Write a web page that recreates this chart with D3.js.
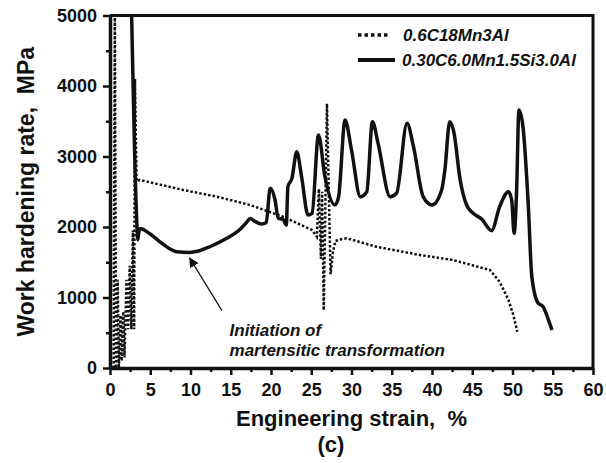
<!DOCTYPE html>
<html>
<head>
<meta charset="utf-8">
<script src="https://cdn.jsdelivr.net/npm/d3@7"></script>
<style>
    body { margin: 0; background: white; font-family: "Liberation Sans", Arial, Helvetica, sans-serif; }
    svg { display: block; }
</style>
</head>
<body>
<svg id="chart"></svg>
<script>
    // strain (%) and work hardening rate (MPa)
    let seriesNames = ["0.6C18Mn3Al", "0.30C6.0Mn1.5Si3.0Al"];

    let dottedStrain = [0.45, 0.6, 0.75, 0.95, 1.1, 1.3, 1.45, 1.65, 1.8, 2.05, 2.25, 2.45, 2.65, 2.85, 3.0, 3.1, 3.3, 3.7,
        9.1, 13.3, 17.4, 21.5, 25.1, 25.7, 25.95, 26.2, 26.35, 26.55, 26.95, 27.4, 27.7, 28.0, 28.4, 29.4,
        33.1, 38.5, 42.6, 47.2, 48.4, 49.5, 50.1, 50.6];
    let dottedRate = [0, 5100, 0, 1250, 0, 750, 100, 800, 150, 1250, 550, 1450, 550, 1950, 550, 4100, 2650, 2667,
        2525, 2430, 2312, 2146, 1957, 1862, 2540, 1550, 2500, 820, 3750, 1330, 1650, 1800, 1820, 1840,
        1720, 1603, 1532, 1390, 1224, 965, 752, 515];

    let solidStrain = [2.68, 3.3, 3.45, 3.55, 3.75, 5.0, 6.2, 7.3, 8.3, 9.9, 11.0, 12.4, 14.5, 16.1, 17.0, 17.4,
        18.0, 18.8, 19.4, 19.9, 20.5, 20.9, 21.5, 21.9, 22.1, 22.6, 23.2, 23.8, 24.6, 25.1, 25.9, 26.7,
        27.95, 28.4, 29.2, 30.0, 31.1, 31.9, 32.6, 33.3, 34.8, 35.6, 36.9, 37.7, 38.9, 40.0, 41.2, 41.6,
        42.2, 42.7, 43.5, 44.3, 44.9, 46.2, 47.4, 48.4, 49.5, 49.9, 50.2, 50.5, 50.8, 51.3, 51.95, 52.4,
        53.2, 53.8, 54.4, 54.9];
    let solidRate = [5050, 2150, 1820, 1900, 1980, 1900, 1790, 1700, 1650, 1640, 1660, 1720, 1840, 1960, 2070, 2120,
        2080, 2043, 2060, 2549, 2383, 2123, 2109, 2028, 2572, 2690, 3068, 2713, 2170, 2194, 3305, 2713,
        2312, 2430, 3518, 3092, 2430, 2501, 3494, 3187, 2430, 2478, 3471, 3139, 2430, 2312, 2525, 2808,
        3494, 3352, 2667, 2312, 2217, 2109, 1948, 2288, 2501, 2383, 1910, 2478, 3660, 3423, 2336, 1295,
        918, 870, 705, 539];

    let xTicks = [0, 5, 10, 15, 20, 25, 30, 35, 40, 45, 50, 55, 60];
    let yTicks = [0, 1000, 2000, 3000, 4000, 5000];

    function drawChart() {
        let width = 606, height = 463;
        let svg = d3.select("#chart").attr("width", width).attr("height", height);

        let x = d3.scaleLinear().domain([0, 60]).range([110, 593]);
        let y = d3.scaleLinear().domain([0, 5000]).range([368, 15.5]);

        svg.append("clipPath").attr("id", "plot")
            .append("rect")
            .attr("x", x(0)).attr("y", y(5000))
            .attr("width", x(60) - x(0)).attr("height", y(0) - y(5000));

        // frame (top and right)
        svg.append("path")
            .attr("d", "M" + x(0) + "," + y(5000) + "H" + x(60) + "V" + y(0))
            .attr("fill", "none").attr("stroke", "#111").attr("stroke-width", 3);

        // minor ticks
        let xMinor = d3.axisBottom(x).tickValues(d3.range(2.5, 60, 5)).tickSize(4).tickFormat("");
        svg.append("g").attr("transform", "translate(0," + y(0) + ")").call(xMinor)
            .call(g => g.select(".domain").remove())
            .selectAll("line").attr("stroke", "#111").attr("stroke-width", 2.5);
        let yMinor = d3.axisLeft(y).tickValues(d3.range(500, 5000, 1000)).tickSize(4).tickFormat("");
        svg.append("g").attr("transform", "translate(" + x(0) + ",0)").call(yMinor)
            .call(g => g.select(".domain").remove())
            .selectAll("line").attr("stroke", "#111").attr("stroke-width", 2.5);

        // series
        let plot = svg.append("g").attr("clip-path", "url(#plot)");
        let dotted = dottedStrain.map((s, i) => [s, dottedRate[i]]);
        let solid = solidStrain.map((s, i) => [s, solidRate[i]]);

        plot.append("path")
            .datum(dotted)
            .attr("d", d3.line().x(d => x(d[0])).y(d => y(d[1])))
            .attr("fill", "none").attr("stroke", "#111")
            .attr("stroke-width", 2.5).attr("stroke-dasharray", "2.5,2");

        plot.append("path")
            .datum(solid)
            .attr("d", d3.line().curve(d3.curveMonotoneX).x(d => x(d[0])).y(d => y(d[1])))
            .attr("fill", "none").attr("stroke", "#111")
            .attr("stroke-width", 3.5).attr("stroke-linejoin", "round");

        // major axes
        let xAxis = d3.axisBottom(x).tickValues(xTicks).tickSize(7).tickPadding(8).tickSizeOuter(0);
        let gx = svg.append("g").attr("transform", "translate(0," + y(0) + ")").call(xAxis);
        let yAxis = d3.axisLeft(y).tickValues(yTicks).tickFormat(d3.format("d"))
            .tickSize(7).tickPadding(6).tickSizeOuter(0);
        let gy = svg.append("g").attr("transform", "translate(" + x(0) + ",0)").call(yAxis);
        [gx, gy].forEach(g => {
            g.select(".domain").attr("stroke", "#111").attr("stroke-width", 3.5);
            g.selectAll(".tick line").attr("stroke", "#111").attr("stroke-width", 2.5);
            g.selectAll(".tick text")
                .attr("fill", "#111")
                .style("font-family", "'Liberation Sans', Arial, sans-serif")
                .style("font-size", "18px").style("font-weight", "bold");
        });

        // axis titles
        svg.append("text")
            .attr("x", (x(0) + x(60)) / 2).attr("y", 426)
            .attr("text-anchor", "middle")
            .style("font-size", "22px").style("font-weight", "bold").attr("fill", "#111")
            .attr("xml:space", "preserve")
            .text("Engineering strain,  %");
        svg.append("text")
            .attr("x", 331).attr("y", 452)
            .attr("text-anchor", "middle")
            .style("font-size", "22px").style("font-weight", "bold").attr("fill", "#111")
            .text("(c)");
        svg.append("text")
            .attr("transform", "translate(34," + (y(0) + y(5000)) / 2 + ") rotate(-90)")
            .attr("text-anchor", "middle")
            .style("font-size", "23px").style("font-weight", "bold").attr("fill", "#111")
            .attr("xml:space", "preserve")
            .text("Work hardening rate,  MPa");

        // legend
        let legend = svg.append("g").attr("transform", "translate(358,35)");
        legend.append("line").attr("x1", 0).attr("x2", 31).attr("y1", 0).attr("y2", 0)
            .attr("stroke", "#111").attr("stroke-width", 3.5).attr("stroke-dasharray", "3.5,3");
        legend.append("line").attr("x1", 0).attr("x2", 37).attr("y1", 25).attr("y2", 25)
            .attr("stroke", "#111").attr("stroke-width", 4);
        legend.selectAll("text").data(seriesNames).enter().append("text")
            .attr("x", (d, i) => i == 0 ? 45 : 44)
            .attr("y", (d, i) => i * 25 + 6)
            .style("font-size", "17px").style("font-weight", "bold").style("font-style", "italic")
            .attr("fill", "#111")
            .text(d => d);

        // annotation
        let defs = svg.append("defs");
        defs.append("marker").attr("id", "head")
            .attr("viewBox", "0 0 10 10").attr("refX", 9).attr("refY", 5)
            .attr("markerWidth", 10).attr("markerHeight", 10)
            .attr("markerUnits", "userSpaceOnUse")
            .attr("orient", "auto")
            .append("path").attr("d", "M0,0L10,5L0,10Z").attr("fill", "#111");
        svg.append("line")
            .attr("x1", x(13.9)).attr("y1", y(813))
            .attr("x2", x(9.9)).attr("y2", y(1560))
            .attr("stroke", "#111").attr("stroke-width", 1.3)
            .attr("marker-end", "url(#head)");
        let note = ["Initiation of", "martensitic transformation"];
        svg.selectAll(".note").data(note).enter().append("text")
            .attr("class", "note")
            .attr("x", x(14.85))
            .attr("y", (d, i) => y(454) + i * 20)
            .style("font-size", "17px").style("font-weight", "bold").style("font-style", "italic")
            .attr("fill", "#111")
            .text(d => d);
    }

    drawChart();
</script>
</body>
</html>
